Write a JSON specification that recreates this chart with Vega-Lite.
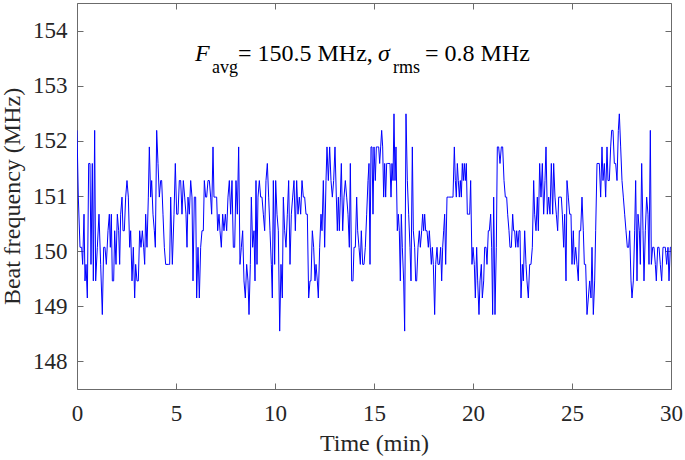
{
  "$schema": "https://vega.github.io/schema/vega-lite/v6.json",
  "width": 594,
  "height": 386,
  "autosize": {"type": "none"},
  "padding": {"left": 77, "top": 3, "right": 14, "bottom": 71},
  "background": "white",
  "config": {
    "view": {"stroke": null},
    "font": "Liberation Serif",
    "axis": {
      "labelFont": "Liberation Serif",
      "titleFont": "Liberation Serif",
      "labelFontSize": 23,
      "titleFontSize": 24,
      "titleFontWeight": "normal",
      "labelColor": "#262626",
      "titleColor": "#262626",
      "domainColor": "#6b6b6b",
      "tickColor": "#6b6b6b",
      "domainWidth": 1,
      "tickWidth": 1,
      "grid": false
    }
  },
  "datasets": {
    "beat": [
      {"t":0,"f":152.19},{"t":0.067,"f":150.98},{"t":0.152,"f":150.07},{"t":0.236,"f":150.07},{"t":0.286,"f":149.76},{"t":0.354,"f":150.67},{"t":0.404,"f":149.46},{"t":0.455,"f":149.76},{"t":0.522,"f":149.15},{"t":0.589,"f":151.59},{"t":0.657,"f":151.59},{"t":0.707,"f":149.76},{"t":0.774,"f":151.59},{"t":0.825,"f":149.46},{"t":0.892,"f":152.19},{"t":0.943,"f":149.46},{"t":1.027,"f":150.07},{"t":1.111,"f":150.67},{"t":1.195,"f":149.76},{"t":1.279,"f":148.85},{"t":1.347,"f":150.07},{"t":1.414,"f":150.07},{"t":1.481,"f":149.76},{"t":1.566,"f":150.37},{"t":1.633,"f":150.67},{"t":1.684,"f":150.07},{"t":1.734,"f":150.67},{"t":1.785,"f":149.46},{"t":1.852,"f":149.46},{"t":1.902,"f":150.37},{"t":1.97,"f":149.76},{"t":2.037,"f":150.67},{"t":2.104,"f":150.37},{"t":2.155,"f":149.76},{"t":2.205,"f":150.67},{"t":2.273,"f":150.98},{"t":2.323,"f":150.37},{"t":2.391,"f":150.37},{"t":2.458,"f":150.98},{"t":2.525,"f":151.28},{"t":2.593,"f":150.98},{"t":2.66,"f":150.07},{"t":2.71,"f":150.37},{"t":2.778,"f":149.46},{"t":2.845,"f":150.07},{"t":2.912,"f":149.15},{"t":2.963,"f":149.76},{"t":3.03,"f":149.46},{"t":3.098,"f":149.46},{"t":3.165,"f":150.37},{"t":3.232,"f":150.07},{"t":3.3,"f":150.37},{"t":3.367,"f":150.07},{"t":3.418,"f":149.76},{"t":3.468,"f":150.67},{"t":3.535,"f":150.07},{"t":3.603,"f":150.98},{"t":3.653,"f":151.89},{"t":3.721,"f":150.98},{"t":3.771,"f":151.28},{"t":3.838,"f":150.67},{"t":3.906,"f":150.37},{"t":3.956,"f":150.07},{"t":4.024,"f":152.19},{"t":4.091,"f":151.59},{"t":4.158,"f":150.98},{"t":4.226,"f":151.28},{"t":4.276,"f":151.28},{"t":4.343,"f":150.67},{"t":4.411,"f":150.07},{"t":4.478,"f":149.76},{"t":4.545,"f":149.76},{"t":4.613,"f":149.76},{"t":4.68,"f":149.76},{"t":4.731,"f":150.98},{"t":4.815,"f":149.76},{"t":4.899,"f":150.67},{"t":4.966,"f":151.59},{"t":5.034,"f":150.67},{"t":5.101,"f":150.67},{"t":5.168,"f":151.28},{"t":5.236,"f":151.28},{"t":5.303,"f":150.67},{"t":5.37,"f":151.28},{"t":5.438,"f":150.98},{"t":5.505,"f":150.67},{"t":5.556,"f":150.07},{"t":5.606,"f":150.98},{"t":5.673,"f":150.67},{"t":5.741,"f":151.28},{"t":5.808,"f":150.98},{"t":5.859,"f":149.46},{"t":5.926,"f":150.98},{"t":5.993,"f":150.98},{"t":6.044,"f":149.15},{"t":6.111,"f":150.07},{"t":6.178,"f":149.15},{"t":6.246,"f":150.07},{"t":6.313,"f":150.37},{"t":6.38,"f":150.37},{"t":6.431,"f":151.28},{"t":6.498,"f":150.98},{"t":6.549,"f":150.98},{"t":6.616,"f":151.28},{"t":6.684,"f":151.28},{"t":6.751,"f":150.98},{"t":6.801,"f":150.67},{"t":6.869,"f":151.89},{"t":6.919,"f":150.98},{"t":6.987,"f":150.98},{"t":7.054,"f":150.98},{"t":7.104,"f":150.37},{"t":7.172,"f":150.67},
      {"t":7.222,"f":150.37},{"t":7.29,"f":150.07},{"t":7.357,"f":150.67},{"t":7.424,"f":150.37},{"t":7.492,"f":150.67},{"t":7.559,"f":150.37},{"t":7.626,"f":150.98},{"t":7.694,"f":151.28},{"t":7.761,"f":150.67},{"t":7.828,"f":151.28},{"t":7.896,"f":150.07},{"t":7.963,"f":150.07},{"t":8.03,"f":151.28},{"t":8.098,"f":150.67},{"t":8.165,"f":151.89},{"t":8.232,"f":149.76},{"t":8.3,"f":150.07},{"t":8.367,"f":150.37},{"t":8.434,"f":149.46},{"t":8.502,"f":149.15},{"t":8.569,"f":149.76},{"t":8.636,"f":149.46},{"t":8.687,"f":148.85},{"t":8.754,"f":149.76},{"t":8.805,"f":150.98},{"t":8.872,"f":150.07},{"t":8.939,"f":150.37},{"t":8.99,"f":149.46},{"t":9.04,"f":151.28},{"t":9.091,"f":149.76},{"t":9.141,"f":150.98},{"t":9.209,"f":151.28},{"t":9.276,"f":150.98},{"t":9.343,"f":150.98},{"t":9.411,"f":150.67},{"t":9.478,"f":150.37},{"t":9.545,"f":151.28},{"t":9.613,"f":151.59},{"t":9.68,"f":150.98},{"t":9.747,"f":150.37},{"t":9.815,"f":149.76},{"t":9.865,"f":149.15},{"t":9.916,"f":151.28},{"t":9.983,"f":149.76},{"t":10.034,"f":151.28},{"t":10.101,"f":150.67},{"t":10.168,"f":150.37},{"t":10.236,"f":148.55},{"t":10.303,"f":149.76},{"t":10.37,"f":149.15},{"t":10.421,"f":150.98},{"t":10.488,"f":150.37},{"t":10.556,"f":150.07},{"t":10.623,"f":150.67},{"t":10.69,"f":151.28},{"t":10.758,"f":149.76},{"t":10.825,"f":150.67},{"t":10.892,"f":150.98},{"t":10.96,"f":151.28},{"t":11.027,"f":150.37},{"t":11.094,"f":151.28},{"t":11.162,"f":150.67},{"t":11.229,"f":150.98},{"t":11.296,"f":150.67},{"t":11.364,"f":151.28},{"t":11.431,"f":150.98},{"t":11.498,"f":150.98},{"t":11.566,"f":150.67},{"t":11.633,"f":150.67},{"t":11.7,"f":149.15},{"t":11.768,"f":149.46},{"t":11.818,"f":149.46},{"t":11.886,"f":150.37},{"t":11.953,"f":150.07},{"t":12.02,"f":149.46},{"t":12.071,"f":149.76},{"t":12.138,"f":149.46},{"t":12.189,"f":149.15},{"t":12.256,"f":150.07},{"t":12.323,"f":150.67},{"t":12.374,"f":150.37},{"t":12.441,"f":151.28},{"t":12.508,"f":150.07},{"t":12.576,"f":151.28},{"t":12.626,"f":151.89},{"t":12.694,"f":151.28},{"t":12.761,"f":151.89},{"t":12.828,"f":151.28},{"t":12.896,"f":150.98},{"t":12.963,"f":151.28},{"t":13.03,"f":151.89},{"t":13.098,"f":150.98},{"t":13.148,"f":150.37},{"t":13.199,"f":150.98},{"t":13.249,"f":150.37},{"t":13.3,"f":150.98},{"t":13.35,"f":151.59},{"t":13.418,"f":150.37},{"t":13.485,"f":150.98},{"t":13.552,"f":151.28},{"t":13.62,"f":150.98},{"t":13.687,"f":150.67},{"t":13.754,"f":150.07},{"t":13.805,"f":151.59},{"t":13.872,"f":149.46},{"t":13.939,"f":149.46},{"t":13.99,"f":150.07},{"t":14.057,"f":150.07},{"t":14.125,"f":150.98},{"t":14.175,"f":150.37},{"t":14.242,"f":150.07},{"t":14.31,"f":149.76},{"t":14.36,"f":150.37},{"t":14.428,"f":149.76},{"t":14.495,"f":149.76},{"t":14.562,"f":150.07},{"t":14.63,"f":150.67},{"t":14.697,"f":151.28},{"t":14.747,"f":151.59},
      {"t":14.798,"f":149.76},{"t":14.848,"f":151.89},{"t":14.899,"f":151.89},{"t":14.949,"f":150.67},{"t":15,"f":151.89},{"t":15.067,"f":151.28},{"t":15.118,"f":151.89},{"t":15.168,"f":151.89},{"t":15.236,"f":151.89},{"t":15.286,"f":151.59},{"t":15.337,"f":151.89},{"t":15.387,"f":152.19},{"t":15.438,"f":151.89},{"t":15.488,"f":150.98},{"t":15.539,"f":151.59},{"t":15.589,"f":150.98},{"t":15.64,"f":151.59},{"t":15.69,"f":151.59},{"t":15.758,"f":151.59},{"t":15.808,"f":151.59},{"t":15.859,"f":150.98},{"t":15.909,"f":151.59},{"t":15.96,"f":151.28},{"t":16.01,"f":152.49},{"t":16.061,"f":151.28},{"t":16.111,"f":151.89},{"t":16.178,"f":150.37},{"t":16.229,"f":150.67},{"t":16.279,"f":150.37},{"t":16.33,"f":149.46},{"t":16.38,"f":150.67},{"t":16.431,"f":150.07},{"t":16.498,"f":149.46},{"t":16.549,"f":148.55},{"t":16.616,"f":152.49},{"t":16.684,"f":151.28},{"t":16.751,"f":150.67},{"t":16.818,"f":150.07},{"t":16.869,"f":149.46},{"t":16.936,"f":151.89},{"t":16.987,"f":150.37},{"t":17.054,"f":150.07},{"t":17.104,"f":149.46},{"t":17.155,"f":149.46},{"t":17.222,"f":150.07},{"t":17.29,"f":150.37},{"t":17.34,"f":150.07},{"t":17.407,"f":150.37},{"t":17.458,"f":150.67},{"t":17.508,"f":150.37},{"t":17.559,"f":150.67},{"t":17.609,"f":150.37},{"t":17.677,"f":150.37},{"t":17.744,"f":150.07},{"t":17.795,"f":150.37},{"t":17.845,"f":150.07},{"t":17.896,"f":149.76},{"t":17.946,"f":150.07},{"t":17.997,"f":149.76},{"t":18.064,"f":148.85},{"t":18.114,"f":149.76},{"t":18.182,"f":150.07},{"t":18.232,"f":149.76},{"t":18.3,"f":149.76},{"t":18.367,"f":150.07},{"t":18.418,"f":149.46},{"t":18.468,"f":150.07},{"t":18.519,"f":150.37},{"t":18.569,"f":150.67},{"t":18.62,"f":149.76},{"t":18.687,"f":150.98},{"t":18.754,"f":150.98},{"t":18.838,"f":150.98},{"t":18.923,"f":150.98},{"t":18.99,"f":150.98},{"t":19.057,"f":151.89},{"t":19.108,"f":151.28},{"t":19.158,"f":150.98},{"t":19.209,"f":151.59},{"t":19.259,"f":151.28},{"t":19.31,"f":150.98},{"t":19.36,"f":151.28},{"t":19.411,"f":150.98},{"t":19.461,"f":151.59},{"t":19.512,"f":151.28},{"t":19.562,"f":151.59},{"t":19.613,"f":151.28},{"t":19.663,"f":151.59},{"t":19.714,"f":150.67},{"t":19.781,"f":150.67},{"t":19.832,"f":150.67},{"t":19.882,"f":151.28},{"t":19.949,"f":149.76},{"t":20,"f":150.07},{"t":20.067,"f":149.76},{"t":20.118,"f":149.15},{"t":20.185,"f":150.07},{"t":20.236,"f":149.46},{"t":20.303,"f":148.85},{"t":20.354,"f":149.46},{"t":20.421,"f":149.76},{"t":20.471,"f":149.15},{"t":20.539,"f":149.46},{"t":20.589,"f":150.07},{"t":20.657,"f":150.07},{"t":20.707,"f":149.76},{"t":20.774,"f":150.37},{"t":20.825,"f":150.37},{"t":20.892,"f":150.67},{"t":20.943,"f":150.07},{"t":20.993,"f":148.85},{"t":21.044,"f":150.98},{"t":21.111,"f":148.85},{"t":21.178,"f":150.07},{"t":21.229,"f":151.89},{"t":21.296,"f":151.89},{"t":21.364,"f":151.59},{"t":21.431,"f":151.89},{"t":21.498,"f":151.89},{"t":21.566,"f":151.28},{"t":21.633,"f":150.98},{"t":21.7,"f":150.98},{"t":21.751,"f":150.67},{"t":21.818,"f":150.37},{"t":21.869,"f":150.07},{"t":21.936,"f":150.07},{"t":22.003,"f":150.67},{"t":22.054,"f":150.37},{"t":22.104,"f":150.37},{"t":22.155,"f":150.07},{"t":22.205,"f":150.37},{"t":22.273,"f":150.07},{"t":22.323,"f":150.37},
      {"t":22.374,"f":150.37},{"t":22.424,"f":149.15},{"t":22.492,"f":149.76},{"t":22.542,"f":149.46},{"t":22.609,"f":150.37},{"t":22.677,"f":149.76},{"t":22.727,"f":149.46},{"t":22.795,"f":149.15},{"t":22.862,"f":149.76},{"t":22.929,"f":149.76},{"t":22.997,"f":150.07},{"t":23.064,"f":151.28},{"t":23.114,"f":150.67},{"t":23.182,"f":150.37},{"t":23.249,"f":150.98},{"t":23.3,"f":150.37},{"t":23.367,"f":151.59},{"t":23.434,"f":150.98},{"t":23.502,"f":151.59},{"t":23.569,"f":150.67},{"t":23.636,"f":151.28},{"t":23.687,"f":151.89},{"t":23.754,"f":150.67},{"t":23.822,"f":150.98},{"t":23.889,"f":150.67},{"t":23.956,"f":151.59},{"t":24.024,"f":150.67},{"t":24.074,"f":151.59},{"t":24.141,"f":150.98},{"t":24.209,"f":150.67},{"t":24.276,"f":150.37},{"t":24.327,"f":150.98},{"t":24.394,"f":150.98},{"t":24.461,"f":150.98},{"t":24.512,"f":150.67},{"t":24.579,"f":150.07},{"t":24.63,"f":150.67},{"t":24.697,"f":149.46},{"t":24.747,"f":151.28},{"t":24.815,"f":150.98},{"t":24.882,"f":150.67},{"t":24.949,"f":150.67},{"t":25,"f":149.76},{"t":25.067,"f":150.37},{"t":25.118,"f":149.76},{"t":25.185,"f":150.07},{"t":25.253,"f":149.76},{"t":25.32,"f":149.46},{"t":25.37,"f":150.37},{"t":25.438,"f":150.37},{"t":25.505,"f":150.98},{"t":25.572,"f":150.37},{"t":25.623,"f":149.76},{"t":25.69,"f":149.76},{"t":25.758,"f":148.85},{"t":25.825,"f":149.15},{"t":25.892,"f":149.46},{"t":25.96,"f":149.15},{"t":26.01,"f":150.07},{"t":26.077,"f":148.85},{"t":26.145,"f":149.46},{"t":26.195,"f":150.37},{"t":26.263,"f":151.59},{"t":26.313,"f":151.59},{"t":26.38,"f":151.59},{"t":26.448,"f":150.98},{"t":26.515,"f":151.89},{"t":26.566,"f":151.28},{"t":26.633,"f":151.59},{"t":26.7,"f":150.98},{"t":26.768,"f":151.89},{"t":26.818,"f":151.28},{"t":26.886,"f":151.28},{"t":26.953,"f":151.89},{"t":27.003,"f":152.19},{"t":27.071,"f":152.19},{"t":27.138,"f":151.59},{"t":27.205,"f":151.59},{"t":27.273,"f":151.28},{"t":27.34,"f":152.19},{"t":27.391,"f":152.49},{"t":27.458,"f":151.89},{"t":27.525,"f":151.28},{"t":27.593,"f":150.98},{"t":27.66,"f":150.67},{"t":27.727,"f":150.37},{"t":27.795,"f":150.07},{"t":27.862,"f":150.07},{"t":27.912,"f":150.37},{"t":27.98,"f":149.46},{"t":28.03,"f":149.15},{"t":28.098,"f":149.46},{"t":28.165,"f":150.37},{"t":28.215,"f":151.28},{"t":28.283,"f":149.46},{"t":28.333,"f":150.67},{"t":28.401,"f":150.37},{"t":28.451,"f":149.76},{"t":28.519,"f":151.59},{"t":28.586,"f":150.37},{"t":28.636,"f":149.46},{"t":28.704,"f":150.37},{"t":28.771,"f":150.98},{"t":28.838,"f":150.67},{"t":28.889,"f":149.76},{"t":28.956,"f":152.19},{"t":29.007,"f":149.76},{"t":29.074,"f":150.07},{"t":29.141,"f":150.07},{"t":29.209,"f":149.76},{"t":29.259,"f":149.46},{"t":29.327,"f":150.07},{"t":29.394,"f":150.07},{"t":29.461,"f":149.76},{"t":29.529,"f":149.46},{"t":29.596,"f":150.07},{"t":29.663,"f":150.07},{"t":29.714,"f":150.07},{"t":29.781,"f":149.76},{"t":29.848,"f":150.07},{"t":29.899,"f":149.46},{"t":29.966,"f":150.07},{"t":30,"f":150.07}
    ],
    "italic": [
      {"t": 5.96, "f": 153.44, "s": "F"},
      {"t": 15.2, "f": 153.44, "s": "σ"}
    ],
    "sub": [
      {"t": 6.82, "f": 153.23, "s": "avg"},
      {"t": 15.96, "f": 153.23, "s": "rms"}
    ],
    "plain": [
      {"t": 8.13, "f": 153.44, "s": "= 150.5 MHz,"},
      {"t": 17.58, "f": 153.44, "s": "= 0.8 MHz"}
    ]
  },
  "layer": [
    {
      "data": {"name": "beat"},
      "mark": {"type": "line", "color": "#0000ff", "strokeWidth": 1, "clip": true},
      "encoding": {
        "x": {
          "field": "t", "type": "quantitative",
          "scale": {"domain": [0, 30], "nice": false, "zero": false},
          "axis": {"orient": "bottom", "values": [0, 5, 10, 15, 20, 25, 30], "tickSize": -6, "labelPadding": 19, "title": "Time (min)", "titlePadding": 6, "labelFlush": false}
        },
        "y": {
          "field": "f", "type": "quantitative",
          "scale": {"domain": [147.5, 154.5], "nice": false, "zero": false},
          "axis": {"orient": "left", "values": [148, 149, 150, 151, 152, 153, 154], "tickSize": -6, "labelPadding": 16, "title": "Beat frequency (MHz)", "titlePadding": 8, "labelFlush": false}
        }
      }
    },
    {
      "data": {"name": "beat"},
      "mark": {"type": "line", "strokeOpacity": 0},
      "encoding": {
        "x": {
          "field": "t", "type": "quantitative",
          "axis": {"orient": "top", "values": [0, 5, 10, 15, 20, 25, 30], "tickSize": -6, "labels": false, "title": null}
        },
        "y": {
          "field": "f", "type": "quantitative",
          "axis": {"orient": "right", "values": [148, 149, 150, 151, 152, 153, 154], "tickSize": -6, "labels": false, "title": null}
        }
      }
    },
    {
      "data": {"name": "italic"},
      "mark": {"type": "text", "align": "left", "baseline": "alphabetic", "font": "Liberation Serif", "fontSize": 24, "fontStyle": "italic", "color": "#000000"},
      "encoding": {
        "x": {"field": "t", "type": "quantitative", "axis": null},
        "y": {"field": "f", "type": "quantitative", "axis": null},
        "text": {"field": "s"}
      }
    },
    {
      "data": {"name": "sub"},
      "mark": {"type": "text", "align": "left", "baseline": "alphabetic", "font": "Liberation Serif", "fontSize": 18, "color": "#000000"},
      "encoding": {
        "x": {"field": "t", "type": "quantitative", "axis": null},
        "y": {"field": "f", "type": "quantitative", "axis": null},
        "text": {"field": "s"}
      }
    },
    {
      "data": {"name": "plain"},
      "mark": {"type": "text", "align": "left", "baseline": "alphabetic", "font": "Liberation Serif", "fontSize": 24, "color": "#000000"},
      "encoding": {
        "x": {"field": "t", "type": "quantitative", "axis": null},
        "y": {"field": "f", "type": "quantitative", "axis": null},
        "text": {"field": "s"}
      }
    }
  ],
  "resolve": {"axis": {"x": "independent", "y": "independent"}}
}
